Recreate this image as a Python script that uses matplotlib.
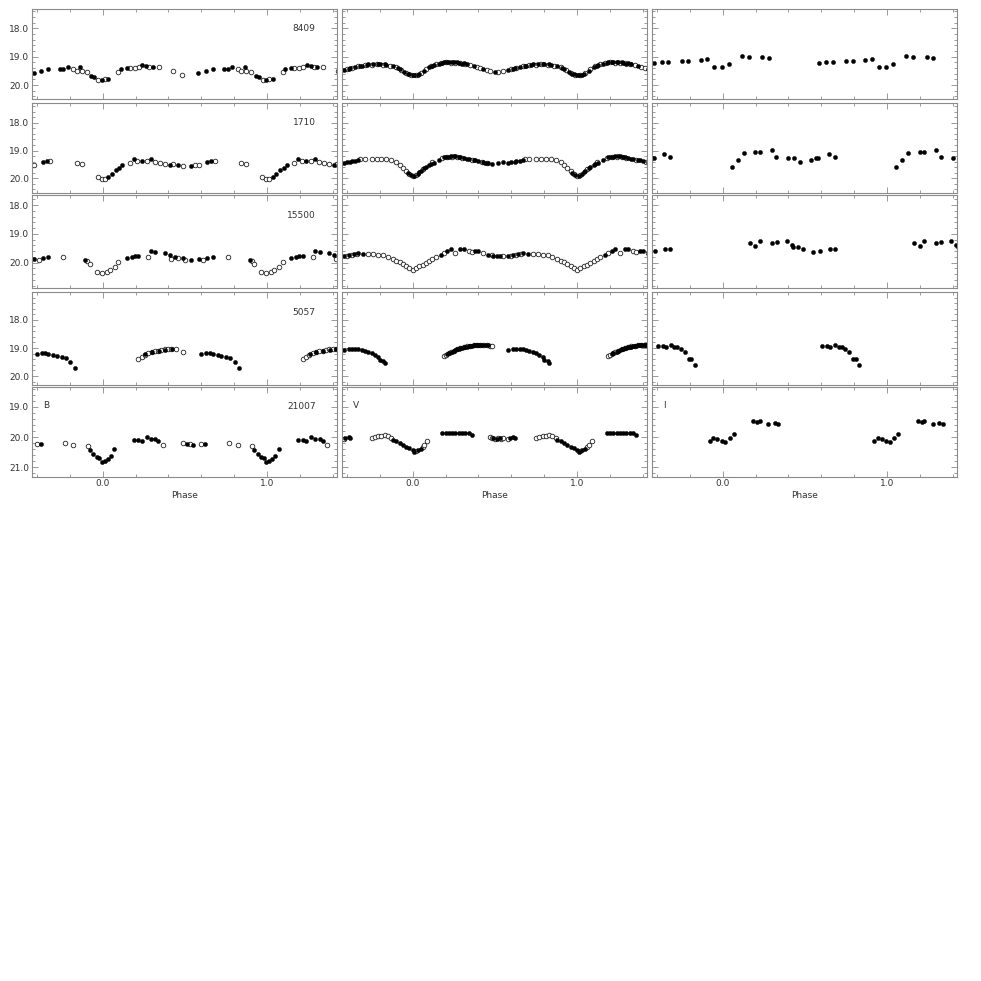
import matplotlib
matplotlib.use("Agg")
import matplotlib.pyplot as plt
from matplotlib.ticker import MultipleLocator, FixedLocator, NullFormatter, FormatStrFormatter

# star ids (one per row) and band names (one per column)
stars = ["8409", "1710", "15500", "5057", "21007"]
bands = ["B", "V", "I"]

# ---- B band (phase, mag), filled and open symbols ----
b8409_f_ph = [-0.42, -0.374, -0.33, -0.26, -0.24, -0.214, -0.137, -0.07, -0.05, -0.006, 0.034, 0.11, 0.145, 0.24, 0.264, 0.304]
b8409_f_mag = [19.56, 19.50, 19.42, 19.42, 19.42, 19.36, 19.35, 19.67, 19.73, 19.82, 19.78, 19.45, 19.41, 19.30, 19.33, 19.36]
b8409_o_ph = [-0.18, -0.158, -0.127, -0.097, -0.026, 0.014, 0.094, 0.165, 0.195, 0.22, 0.284, 0.34, 0.43, 0.48]
b8409_o_mag = [19.45, 19.50, 19.52, 19.55, 19.81, 19.78, 19.53, 19.40, 19.40, 19.36, 19.36, 19.36, 19.50, 19.66]

b1710_f_ph = [-0.365, -0.34, 0.034, 0.055, 0.08, 0.10, 0.12, 0.19, 0.236, 0.293, 0.408, 0.458, 0.54]
b1710_f_mag = [19.40, 19.37, 19.94, 19.85, 19.70, 19.62, 19.52, 19.32, 19.36, 19.32, 19.52, 19.52, 19.55]
b1710_o_ph = [-0.416, -0.32, -0.158, -0.127, -0.03, -0.006, 0.014, 0.166, 0.21, 0.267, 0.317, 0.347, 0.378, 0.428, 0.49, 0.56]
b1710_o_mag = [19.52, 19.37, 19.46, 19.50, 19.94, 20.04, 20.03, 19.44, 19.37, 19.37, 19.40, 19.46, 19.49, 19.49, 19.56, 19.53]

b15500_f_ph = [-0.416, -0.365, -0.33, -0.107, 0.145, 0.176, 0.196, 0.216, 0.293, 0.32, 0.378, 0.408, 0.438, 0.49, 0.54]
b15500_f_mag = [19.87, 19.85, 19.79, 19.91, 19.85, 19.79, 19.77, 19.77, 19.59, 19.64, 19.68, 19.74, 19.79, 19.85, 19.91]
b15500_o_ph = [-0.39, -0.24, -0.095, -0.08, -0.036, -0.006, 0.024, 0.044, 0.075, 0.095, 0.277, 0.418, 0.458, 0.50]
b15500_o_mag = [19.91, 19.79, 19.95, 20.03, 20.32, 20.35, 20.32, 20.26, 20.14, 19.97, 19.79, 19.88, 19.85, 19.91]

b5057_f_ph = [-0.40, -0.37, -0.35, -0.33, -0.30, -0.28, -0.248, -0.224, -0.198, -0.168, 0.26, 0.30, 0.34, 0.38, 0.42]
b5057_f_mag = [19.21, 19.19, 19.17, 19.21, 19.25, 19.27, 19.31, 19.37, 19.49, 19.70, 19.23, 19.15, 19.10, 19.06, 19.05]
b5057_o_ph = [0.216, 0.236, 0.256, 0.277, 0.297, 0.317, 0.337, 0.357, 0.378, 0.398, 0.418, 0.448, 0.49]
b5057_o_mag = [19.40, 19.31, 19.25, 19.19, 19.15, 19.12, 19.10, 19.07, 19.05, 19.04, 19.05, 19.05, 19.13]

b21007_f_ph = [-0.375, -0.077, -0.056, -0.036, -0.022, -0.006, 0.014, 0.03, 0.05, 0.07, 0.19, 0.216, 0.236, 0.267, 0.293, 0.32, 0.337, 0.51, 0.55]
b21007_f_mag = [20.24, 20.43, 20.56, 20.65, 20.70, 20.82, 20.78, 20.74, 20.63, 20.41, 20.10, 20.10, 20.13, 20.01, 20.08, 20.08, 20.13, 20.23, 20.26]
b21007_o_ph = [-0.40, -0.232, -0.178, -0.09, 0.367, 0.49, 0.53]
b21007_o_mag = [20.24, 20.19, 20.26, 20.29, 20.26, 20.21, 20.24]

# ---- V band ----
v8409_f_ph = [-0.42, -0.39, -0.38, -0.35, -0.32, -0.31, -0.28, -0.27, -0.24, -0.21, -0.20, -0.17, -0.16, -0.12, -0.09, -0.08,
              -0.05, -0.03, -0.02, 0.00, 0.01, 0.03, 0.04, 0.07, 0.10, 0.12, 0.13, 0.16, 0.18, 0.19, 0.21, 0.22, 0.24, 0.25,
              0.27, 0.28, 0.30, 0.31, 0.33, 0.37, 0.43, 0.50]
v8409_f_mag = [19.47, 19.43, 19.41, 19.36, 19.33, 19.31, 19.28, 19.27, 19.25, 19.24, 19.26, 19.27, 19.28, 19.34, 19.41, 19.44,
               19.55, 19.60, 19.62, 19.64, 19.65, 19.63, 19.60, 19.49, 19.38, 19.32, 19.30, 19.24, 19.22, 19.20, 19.18, 19.17, 19.19, 19.17,
               19.20, 19.21, 19.24, 19.22, 19.27, 19.33, 19.44, 19.53]
v8409_o_ph = [-0.40, -0.37, -0.33, -0.29, -0.25, -0.22, -0.18, -0.14, -0.10, -0.07, -0.04, -0.01, 0.02, 0.05, 0.08, 0.11, 0.14, 0.17, 0.20, 0.23, 0.26, 0.29, 0.32, 0.35, 0.39, 0.41, 0.45, 0.47, 0.52, 0.55]
v8409_o_mag = [19.45, 19.40, 19.34, 19.30, 19.29, 19.27, 19.28, 19.31, 19.38, 19.48, 19.58, 19.64, 19.64, 19.56, 19.44, 19.34, 19.27, 19.22, 19.19, 19.21, 19.22, 19.23, 19.27, 19.30, 19.37, 19.41, 19.47, 19.49, 19.54, 19.51]

v1710_f_ph = [-0.42, -0.40, -0.38, -0.37, -0.35, -0.33, -0.03, -0.01, 0.01, 0.03, 0.04, 0.05, 0.07, 0.08, 0.10, 0.11, 0.13, 0.16, 0.19, 0.20,
              0.22, 0.23, 0.25, 0.26, 0.28, 0.29, 0.31, 0.33, 0.34, 0.37, 0.38, 0.40, 0.43, 0.44, 0.46, 0.48, 0.52, 0.55]
v1710_f_mag = [19.44, 19.42, 19.40, 19.38, 19.36, 19.34, 19.82, 19.89, 19.90, 19.84, 19.78, 19.72, 19.64, 19.58, 19.52, 19.47, 19.44, 19.35, 19.25, 19.22,
               19.22, 19.19, 19.21, 19.20, 19.24, 19.25, 19.27, 19.30, 19.31, 19.33, 19.35, 19.38, 19.41, 19.44, 19.44, 19.48, 19.45, 19.42]
v1710_o_ph = [-0.32, -0.29, -0.25, -0.22, -0.19, -0.16, -0.13, -0.10, -0.08, -0.06, -0.04, -0.02, 0.00, 0.02, 0.06, 0.12, 0.18, 0.21, 0.24, 0.27, 0.30, 0.36, 0.42, 0.45]
v1710_o_mag = [19.32, 19.30, 19.29, 19.30, 19.31, 19.32, 19.34, 19.42, 19.52, 19.62, 19.74, 19.86, 19.92, 19.88, 19.68, 19.42, 19.27, 19.25, 19.24, 19.23, 19.28, 19.35, 19.40, 19.46]

v15500_f_ph = [-0.42, -0.39, -0.36, -0.33, -0.30, 0.17, 0.21, 0.23, 0.29, 0.31, 0.38, 0.40, 0.46, 0.49, 0.51, 0.53]
v15500_f_mag = [19.77, 19.74, 19.70, 19.66, 19.70, 19.72, 19.60, 19.53, 19.52, 19.54, 19.58, 19.61, 19.73, 19.77, 19.76, 19.78]
v15500_o_ph = [-0.40, -0.37, -0.34, -0.27, -0.24, -0.21, -0.18, -0.15, -0.12, -0.10, -0.08, -0.06, -0.04, -0.02, 0.00, 0.02, 0.04, 0.06, 0.08, 0.10, 0.12, 0.14, 0.19, 0.26, 0.34, 0.36, 0.43, 0.48, 0.55]
v15500_o_mag = [19.76, 19.73, 19.69, 19.71, 19.70, 19.72, 19.74, 19.80, 19.88, 19.94, 19.99, 20.06, 20.12, 20.19, 20.26, 20.20, 20.13, 20.07, 20.00, 19.93, 19.86, 19.80, 19.66, 19.65, 19.60, 19.63, 19.66, 19.75, 19.78]

v5057_f_ph = [-0.42, -0.39, -0.37, -0.35, -0.33, -0.31, -0.29, -0.27, -0.25, -0.23, -0.21, -0.20, -0.18, -0.17,
              0.21, 0.22, 0.24, 0.25, 0.26, 0.27, 0.28, 0.29, 0.30, 0.31, 0.32, 0.33, 0.34, 0.35, 0.36, 0.37, 0.38, 0.39, 0.40, 0.41, 0.42, 0.44, 0.46]
v5057_f_mag = [19.08, 19.04, 19.02, 19.03, 19.05, 19.08, 19.12, 19.14, 19.18, 19.24, 19.33, 19.42, 19.47, 19.55,
               19.20, 19.17, 19.13, 19.10, 19.07, 19.05, 19.02, 19.00, 18.99, 18.97, 18.96, 18.95, 18.94, 18.93, 18.92, 18.91, 18.91, 18.90, 18.90, 18.89, 18.91, 18.90, 18.91]
v5057_o_ph = [0.19, 0.20, 0.22, 0.23, 0.25, 0.27, 0.29, 0.31, 0.33, 0.35, 0.37, 0.39, 0.41, 0.43, 0.45, 0.47, 0.48]
v5057_o_mag = [19.30, 19.25, 19.19, 19.15, 19.09, 19.04, 19.00, 18.97, 18.94, 18.92, 18.90, 18.90, 18.89, 18.90, 18.90, 18.92, 18.94]

v21007_f_ph = [-0.41, -0.39, -0.38, -0.12, -0.10, -0.08, -0.06, -0.04, -0.02, 0.00, 0.01, 0.03, 0.05, 0.18, 0.20, 0.22, 0.24, 0.26, 0.28, 0.30, 0.32, 0.34, 0.36, 0.49, 0.51, 0.53]
v21007_f_mag = [20.03, 20.01, 20.02, 20.09, 20.14, 20.20, 20.26, 20.32, 20.37, 20.44, 20.48, 20.44, 20.38, 19.88, 19.86, 19.87, 19.88, 19.87, 19.86, 19.88, 19.88, 19.87, 19.92, 20.03, 20.06, 20.04]
v21007_o_ph = [-0.42, -0.25, -0.23, -0.21, -0.19, -0.17, -0.15, -0.13, 0.02, 0.06, 0.07, 0.09, 0.47, 0.48, 0.50, 0.52, 0.54, 0.55]
v21007_o_mag = [20.05, 20.02, 20.00, 19.96, 19.98, 19.92, 19.97, 20.02, 20.46, 20.32, 20.25, 20.14, 20.00, 20.04, 20.08, 20.02, 20.06, 20.03]

# ---- I band (filled only) ----
i8409_ph = [-0.416, -0.37, -0.33, -0.25, -0.21, -0.134, -0.094, -0.05, -0.004, 0.036, 0.116, 0.157, 0.24, 0.28]
i8409_mag = [19.23, 19.18, 19.18, 19.14, 19.14, 19.12, 19.09, 19.35, 19.35, 19.26, 18.98, 19.02, 19.02, 19.06]

i1710_ph = [-0.42, -0.355, -0.32, 0.056, 0.092, 0.127, 0.197, 0.227, 0.297, 0.327, 0.40, 0.436, 0.47, 0.538, 0.568]
i1710_mag = [19.28, 19.13, 19.25, 19.58, 19.34, 19.10, 19.04, 19.06, 18.98, 19.25, 19.28, 19.28, 19.40, 19.34, 19.28]

i15500_ph = [-0.41, -0.35, -0.32, 0.163, 0.197, 0.227, 0.297, 0.33, 0.39, 0.42, 0.43, 0.458, 0.49, 0.55]
i15500_mag = [19.59, 19.53, 19.53, 19.33, 19.41, 19.24, 19.31, 19.27, 19.24, 19.39, 19.47, 19.47, 19.54, 19.64]

i5057_ph = [-0.396, -0.366, -0.345, -0.315, -0.295, -0.275, -0.255, -0.23, -0.205, -0.19, -0.17]
i5057_mag = [18.93, 18.93, 18.95, 18.89, 18.98, 18.98, 19.05, 19.13, 19.40, 19.38, 19.61]

i21007_ph = [-0.078, -0.058, -0.034, -0.004, 0.016, 0.042, 0.066, 0.187, 0.21, 0.227, 0.277, 0.317, 0.337]
i21007_mag = [20.13, 20.04, 20.08, 20.13, 20.17, 20.04, 19.90, 19.46, 19.52, 19.46, 19.57, 19.53, 19.57]

# y range (bright on top) and labelled ticks of each row
row_ylim = [(20.50, 17.32), (20.54, 17.28), (20.89, 17.65), (20.32, 16.99), (21.31, 18.36)]
row_yticks = [[18, 19, 20], [18, 19, 20], [18, 19, 20], [18, 19, 20], [19, 20, 21]]

b_data = [(b8409_f_ph, b8409_f_mag, b8409_o_ph, b8409_o_mag),
          (b1710_f_ph, b1710_f_mag, b1710_o_ph, b1710_o_mag),
          (b15500_f_ph, b15500_f_mag, b15500_o_ph, b15500_o_mag),
          (b5057_f_ph, b5057_f_mag, b5057_o_ph, b5057_o_mag),
          (b21007_f_ph, b21007_f_mag, b21007_o_ph, b21007_o_mag)]
v_data = [(v8409_f_ph, v8409_f_mag, v8409_o_ph, v8409_o_mag),
          (v1710_f_ph, v1710_f_mag, v1710_o_ph, v1710_o_mag),
          (v15500_f_ph, v15500_f_mag, v15500_o_ph, v15500_o_mag),
          (v5057_f_ph, v5057_f_mag, v5057_o_ph, v5057_o_mag),
          (v21007_f_ph, v21007_f_mag, v21007_o_ph, v21007_o_mag)]
i_data = [(i8409_ph, i8409_mag, [], []),
          (i1710_ph, i1710_mag, [], []),
          (i15500_ph, i15500_mag, [], []),
          (i5057_ph, i5057_mag, [], []),
          (i21007_ph, i21007_mag, [], [])]

XMIN, XMAX = -0.43, 1.425
FRAME = "#8a8a8a"
TXT = "#333333"

plt.rcParams["font.family"] = "DejaVu Sans"
fig = plt.figure(figsize=(9.81, 9.81), dpi=100)
W = H = 981.0

col_x0 = [32, 342, 652]
col_w = 305
row_top = [9, 102.7, 195, 291.7, 387.3]
row_bot = [99.3, 193.3, 288.3, 385, 476.7]


def fold(ph, mag):
    # repeat each cycle so points show at phase-1, phase, phase+1
    xs, ys = [], []
    for k in (-1, 0, 1):
        for p, m in zip(ph, mag):
            x = p + k
            if XMIN - 0.01 <= x <= XMAX + 0.01:
                xs.append(x)
                ys.append(m)
    return xs, ys


for r in range(5):
    for c in range(3):
        ax = fig.add_axes([col_x0[c] / W, 1 - row_bot[r] / H,
                           col_w / W, (row_bot[r] - row_top[r]) / H])
        fph, fmag, oph, omag = [b_data, v_data, i_data][c][r]
        if oph:
            x, y = fold(oph, omag)
            ax.plot(x, y, "o", ms=3.3, mfc="white", mec="#222222", mew=0.6, ls="none")
        x, y = fold(fph, fmag)
        ax.plot(x, y, "o", ms=3.0, mfc="black", mec="black", mew=0.3, ls="none")

        ax.set_xlim(XMIN, XMAX)
        ax.set_ylim(*row_ylim[r])

        ax.xaxis.set_major_locator(FixedLocator([0.0, 1.0]))
        ax.xaxis.set_minor_locator(MultipleLocator(0.2))
        ax.yaxis.set_major_locator(FixedLocator(row_yticks[r]))
        ax.yaxis.set_minor_locator(MultipleLocator(0.2))
        ax.tick_params(which="both", direction="in", top=True, right=True,
                       color=FRAME, width=0.6, labelsize=6.5, labelcolor=TXT, pad=2)
        ax.tick_params(which="major", length=4.5)
        ax.tick_params(which="minor", length=2.5)
        for s in ax.spines.values():
            s.set_color(FRAME)
            s.set_linewidth(0.8)

        if c == 0:
            ax.yaxis.set_major_formatter(FormatStrFormatter("%.1f"))
            ax.text(0.93, 0.78, stars[r], transform=ax.transAxes, ha="right",
                    va="center", fontsize=6.5, color=TXT)
        else:
            ax.yaxis.set_major_formatter(NullFormatter())

        if r == 4:
            ax.xaxis.set_major_formatter(FormatStrFormatter("%.1f"))
            ax.set_xlabel("Phase", fontsize=6.5, color=TXT, labelpad=2)
            ax.text(0.035, 0.80, bands[c], transform=ax.transAxes, ha="left",
                    va="center", fontsize=6.5, color=TXT)
        else:
            ax.xaxis.set_major_formatter(NullFormatter())

fig.savefig("out.png", dpi=100, facecolor="white")
